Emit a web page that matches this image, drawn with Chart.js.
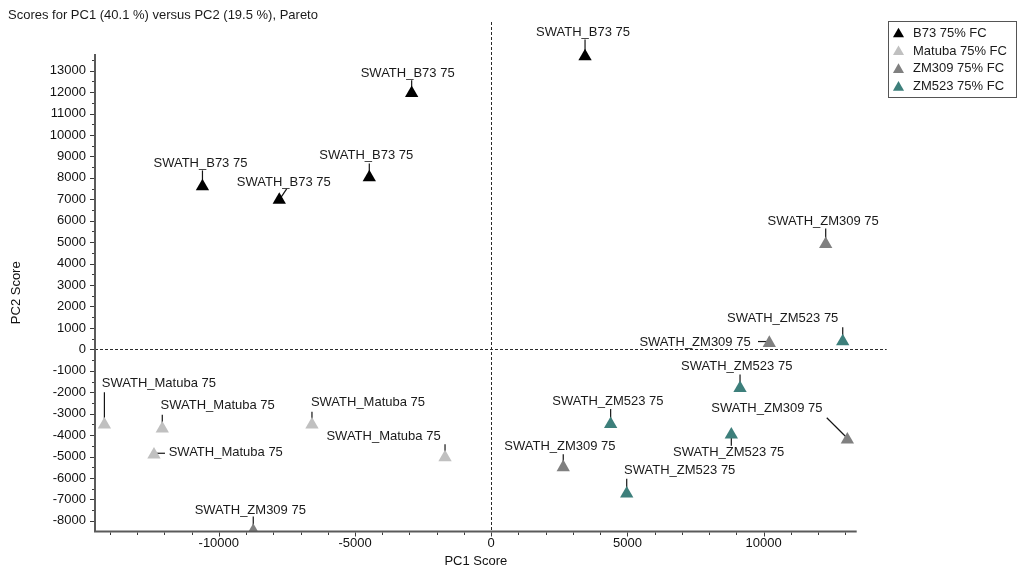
<!DOCTYPE html>
<html>
<head>
<meta charset="utf-8">
<title>Scores for PC1 versus PC2</title>
<script src="https://cdn.jsdelivr.net/npm/chart.js@4.4.1/dist/chart.umd.min.js"></script>
<style>
  html, body { margin: 0; padding: 0; background: #ffffff; }
  canvas { display: block; }
</style>
</head>
<body>
<canvas id="scores" width="1018" height="573"></canvas>
<script>
// Sample groups and the label drawn next to every score
const groups = ['B73 75% FC', 'Matuba 75% FC', 'ZM309 75% FC', 'ZM523 75% FC'];
const sampleNames = ['SWATH_B73 75', 'SWATH_Matuba 75', 'SWATH_ZM309 75', 'SWATH_ZM523 75'];

// PC1 / PC2 scores per group
const b73PC1 = [3445, -2920, -10600, -7780, -4475];
const b73PC2 = [13660, 11950, 7600, 6970, 8020];
const matubaPC1 = [-14200, -12075, -12380, -6580, -1695];
const matubaPC2 = [-3515, -3700, -4915, -3515, -5035];
const zm309PC1 = [-8735, 12280, 10210, 13075, 2645];
const zm309PC2 = [-8470, 4910, 295, -4215, -5500];
const zm523PC1 = [12905, 9135, 4385, 8815, 4975];
const zm523PC2 = [375, -1805, -3485, -3980, -6730];

// Axis extents, labelled ticks and minor tick spacing
const pc1Range = [-14545, 13418];
const pc2Range = [-8494, 13776];
const pc1Ticks = [-10000, -5000, 0, 5000, 10000];
const pc2Ticks = [-8000, -7000, -6000, -5000, -4000, -3000, -2000, -1000, 0,
  1000, 2000, 3000, 4000, 5000, 6000, 7000, 8000, 9000, 10000, 11000, 12000, 13000];
const pc1MinorStep = 1000;
const pc2MinorStep = 500;

const titleText = 'Scores for PC1 (40.1 %) versus PC2 (19.5 %), Pareto';
const colours = ['#000000', '#c0c0c0', '#808080', '#3d7f7b'];

// Label placement per point, in pixels relative to the marker:
// [label dx, label dy, leader from dx, from dy, leader to dx, to dy]
const labelLayout = [
  [[-2, -24, 0, 0, 0, -17], [-4, -20, 0, 0, 0, -13], [-2, -23, 0, 0, 0, -16], [4.5, -18, 0, 0, 7.4, -11], [-3, -22, 0, 0, 0, -14]],
  [[54.5, -41.5, 0, 0, 0, -32.5], [55.4, -23, 0, 0, 0, -14], [71.8, -2.5, 0, -1.5, 11, -1.5], [56, -22.5, 0, 0, 0, -13], [-61.5, -21, 0, 0, 0, -13]],
  [[-3, -21, 0, 0, 0, -14.5], [-2.5, -23, 0, 0, 0, -15.5], [-74.3, -1, 0, -1.5, -11.3, -1.5], [-80.5, -31, 0, -1.5, -20.6, -22], [-3.3, -21, 0, 0, 0, -13]],
  [[-60, -22.5, 0, 0, 0, -14], [-3.3, -21.5, 0, 0, 0, -13.5], [-2.7, -23, 0, 0, 0, -15], [-2.6, 17.5, 0, 0, 0, 11], [53, -23, 0, 0, 0, -15]]
];

const pc1 = [b73PC1, matubaPC1, zm309PC1, zm523PC1];
const pc2 = [b73PC2, matubaPC2, zm309PC2, zm523PC2];

function toPoints(xs, ys) {
  return xs.map((v, i) => ({ x: v, y: ys[i] }));
}

const FONT = '"Liberation Sans", Arial, sans-serif';
Chart.defaults.font.family = FONT;
Chart.defaults.font.size = 13;
Chart.defaults.color = '#111111';

function triangle(ctx, cx, cy, r) {
  ctx.beginPath();
  ctx.moveTo(cx, cy - r);
  ctx.lineTo(cx + r * Math.sqrt(3) / 2, cy + r / 2);
  ctx.lineTo(cx - r * Math.sqrt(3) / 2, cy + r / 2);
  ctx.closePath();
  ctx.fill();
}

const scoreDecor = {
  id: 'scoreDecor',
  beforeDatasetsDraw(chart) {
    const { ctx, chartArea: a, scales: { x, y } } = chart;
    ctx.save();

    // dashed zero lines
    ctx.strokeStyle = '#2b2b2b';
    ctx.lineWidth = 1;
    ctx.setLineDash([3, 2]);
    const x0 = Math.round(x.getPixelForValue(0)) + 0.5;
    const y0 = Math.round(y.getPixelForValue(0)) + 0.5;
    ctx.beginPath();
    ctx.moveTo(x0, a.top - 32);
    ctx.lineTo(x0, a.bottom);
    ctx.stroke();
    ctx.beginPath();
    ctx.moveTo(a.left, y0);
    ctx.lineTo(a.right + 30, y0);
    ctx.stroke();
    ctx.setLineDash([]);

    // leader lines and sample labels
    ctx.font = '13px ' + FONT;
    ctx.textAlign = 'center';
    ctx.textBaseline = 'middle';
    chart.data.datasets.forEach((ds, gi) => {
      const meta = chart.getDatasetMeta(gi);
      meta.data.forEach((pt, pi) => {
        const [dx, dy, ax, ay, bx, by] = labelLayout[gi][pi];
        ctx.strokeStyle = '#151515';
        ctx.lineWidth = 1.2;
        ctx.beginPath();
        ctx.moveTo(pt.x + ax, pt.y + ay);
        ctx.lineTo(pt.x + bx, pt.y + by);
        ctx.stroke();
        ctx.fillStyle = '#1a1a1a';
        ctx.fillText(sampleNames[gi], pt.x + dx, pt.y + dy);
      });
    });
    ctx.restore();
  },
  afterDatasetsDraw(chart) {
    const { ctx, chartArea: a, scales: { x, y } } = chart;
    ctx.save();

    // axis lines
    ctx.strokeStyle = '#5a5a5a';
    ctx.lineWidth = 2;
    ctx.beginPath();
    ctx.moveTo(a.left, a.top);
    ctx.lineTo(a.left, a.bottom);
    ctx.lineTo(a.right, a.bottom);
    ctx.stroke();

    // major and minor tick marks
    ctx.lineWidth = 1;
    ctx.strokeStyle = '#3a3a3a';
    ctx.beginPath();
    for (let v = Math.ceil(pc2Range[0] / pc2MinorStep) * pc2MinorStep; v <= pc2Range[1]; v += pc2MinorStep) {
      const py = Math.round(y.getPixelForValue(v)) + 0.5;
      const len = pc2Ticks.includes(v) ? 4 : 2;
      ctx.moveTo(a.left - 1 - len, py);
      ctx.lineTo(a.left - 1, py);
    }
    for (let v = Math.ceil(pc1Range[0] / pc1MinorStep) * pc1MinorStep; v <= pc1Range[1]; v += pc1MinorStep) {
      const px = Math.round(x.getPixelForValue(v)) + 0.5;
      const len = pc1Ticks.includes(v) ? 4 : 2.5;
      ctx.moveTo(px, a.bottom + 1);
      ctx.lineTo(px, a.bottom + 1 + len);
    }
    ctx.stroke();

    // chart title
    ctx.font = '13px ' + FONT;
    ctx.fillStyle = '#1a1a1a';
    ctx.textAlign = 'left';
    ctx.textBaseline = 'middle';
    ctx.fillText(titleText, 8, 15);

    // legend box
    const box = { left: 888.5, top: 21.5, width: 128, height: 76 };
    ctx.fillStyle = '#ffffff';
    ctx.fillRect(box.left, box.top, box.width, box.height);
    ctx.strokeStyle = '#555555';
    ctx.lineWidth = 1;
    ctx.strokeRect(box.left, box.top, box.width, box.height);
    chart.data.datasets.forEach((ds, i) => {
      const cy = box.top + 11.8 + i * 17.8;
      ctx.fillStyle = ds.backgroundColor;
      triangle(ctx, box.left + 10, cy + 0.8, 6.4);
      ctx.fillStyle = '#1a1a1a';
      ctx.fillText(ds.label, box.left + 24.5, cy);
    });
    ctx.restore();
  }
};

new Chart(document.getElementById('scores'), {
  type: 'scatter',
  data: {
    datasets: groups.map((g, i) => ({
      label: g,
      data: toPoints(pc1[i], pc2[i]),
      pointStyle: 'triangle',
      pointRadius: 7.7,
      pointHoverRadius: 7.7,
      backgroundColor: colours[i],
      borderColor: colours[i],
      borderWidth: 0,
      clip: { left: 12, top: 20, right: 30, bottom: 0 }
    }))
  },
  options: {
    responsive: false,
    animation: false,
    events: [],
    layout: { padding: { top: 54, right: 161.3, left: 0, bottom: 0 } },
    plugins: {
      legend: { display: false },
      title: { display: false },
      tooltip: { enabled: false }
    },
    scales: {
      x: {
        type: 'linear',
        min: pc1Range[0],
        max: pc1Range[1],
        grid: { display: false, drawTicks: false },
        border: { display: false },
        afterBuildTicks: (s) => { s.ticks = pc1Ticks.map((v) => ({ value: v })); },
        ticks: {
          autoSkip: false,
          maxRotation: 0,
          padding: 4,
          color: '#111111',
          callback: (v) => String(v)
        },
        title: { display: true, text: 'PC1 Score', color: '#111111', padding: { top: 0, bottom: 3.5 } },
        afterFit: (s) => { s.height = 41.5; }
      },
      y: {
        type: 'linear',
        min: pc2Range[0],
        max: pc2Range[1],
        grid: { display: false, drawTicks: false },
        border: { display: false },
        afterBuildTicks: (s) => { s.ticks = pc2Ticks.map((v) => ({ value: v })); },
        ticks: {
          autoSkip: false,
          padding: 9,
          color: '#111111',
          callback: (v) => String(v)
        },
        title: { display: true, text: 'PC2 Score', color: '#111111', padding: { top: 9, bottom: 0 } },
        afterFit: (s) => { s.width = 95; }
      }
    }
  },
  plugins: [scoreDecor]
});
</script>
</body>
</html>
